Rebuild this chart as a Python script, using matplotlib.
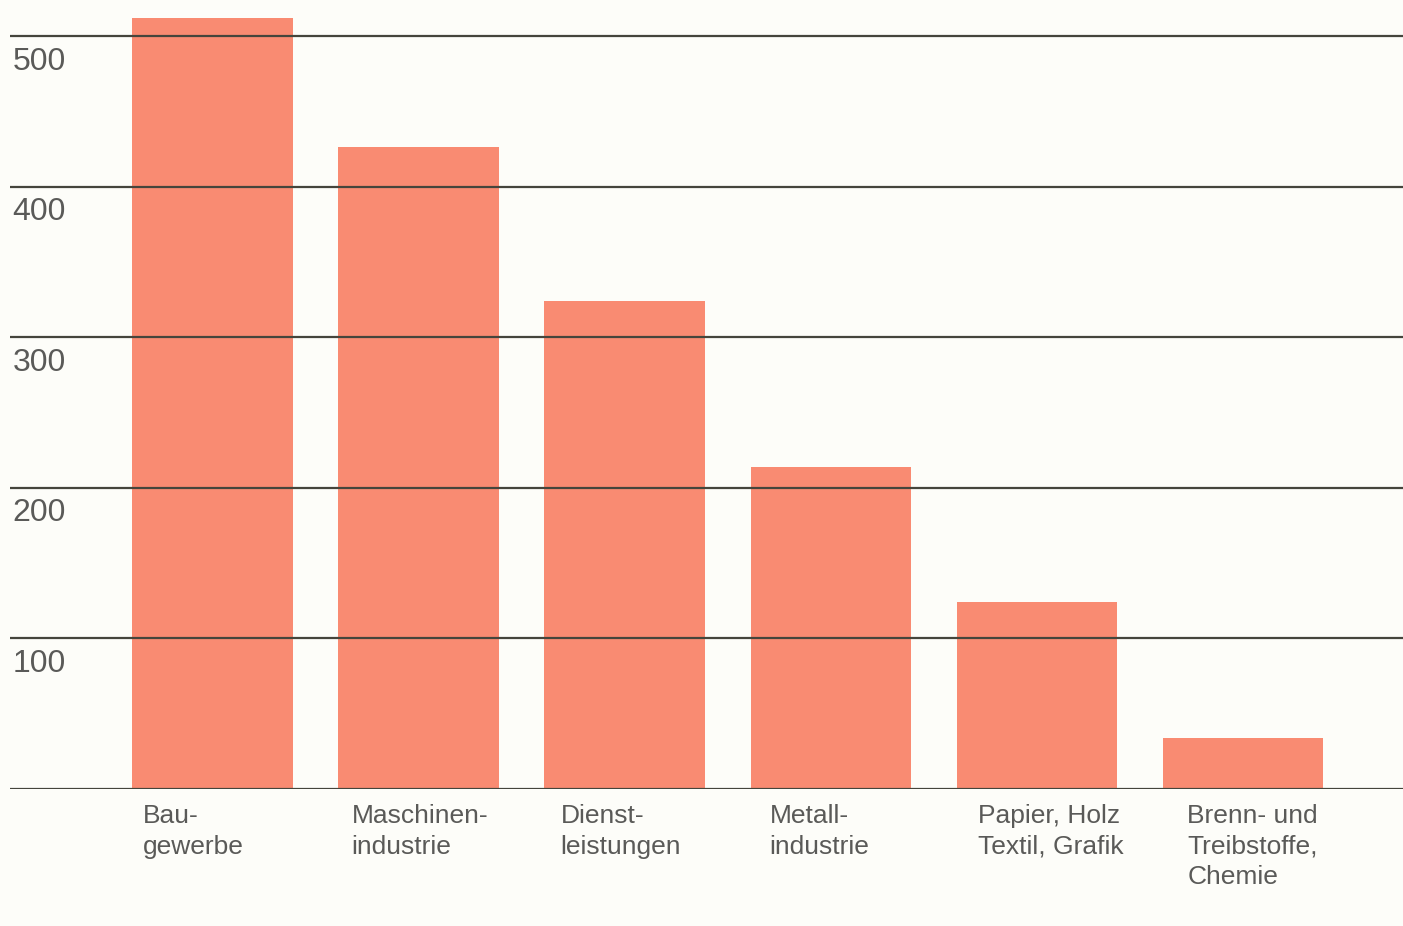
import numpy as np
import matplotlib
matplotlib.use("Agg")
import matplotlib.pyplot as plt

# Beschäftigte nach Branche
branchen = ["Bau-\ngewerbe", "Maschinen-\nindustrie", "Dienst-\nleistungen",
            "Metall-\nindustrie", "Papier, Holz\nTextil, Grafik",
            "Brenn- und\nTreibstoffe,\nChemie"]
werte = [512, 426, 324, 214, 124, 34]
yticks = [100, 200, 300, 400, 500]

bar_color = "#F98B72"
line_color = "#45453c"
text_color = "#5a5a58"
bg = "#FDFDF9"

plt.rcParams["font.family"] = ["Liberation Sans", "DejaVu Sans"]

fig = plt.figure(figsize=(14.03, 9.26), dpi=100, facecolor=bg)
ax = fig.add_axes([0.007, 0.148, 0.993, 0.8456], facecolor=bg)

x = np.arange(len(werte))
ax.bar(x, werte, width=0.78, color=bar_color, zorder=1)

# waagrechte Linien liegen über den Balken
for v in [0] + yticks:
    ax.axhline(v, color=line_color, lw=1.6, zorder=2)

for v in yticks:
    ax.text(0.002, v - 7, str(v), transform=ax.get_yaxis_transform(),
            ha="left", va="top", fontsize=23, color=text_color)

for i, lab in enumerate(branchen):
    ax.text(i - 0.34 + 0.014 * i, -10, lab, ha="left", va="top",
            fontsize=19, color=text_color, linespacing=1.35)

ax.set_xlim(-0.985, 5.777)
ax.set_ylim(0, 520)
ax.axis("off")

fig.savefig("out.png", dpi=100, facecolor=bg)
